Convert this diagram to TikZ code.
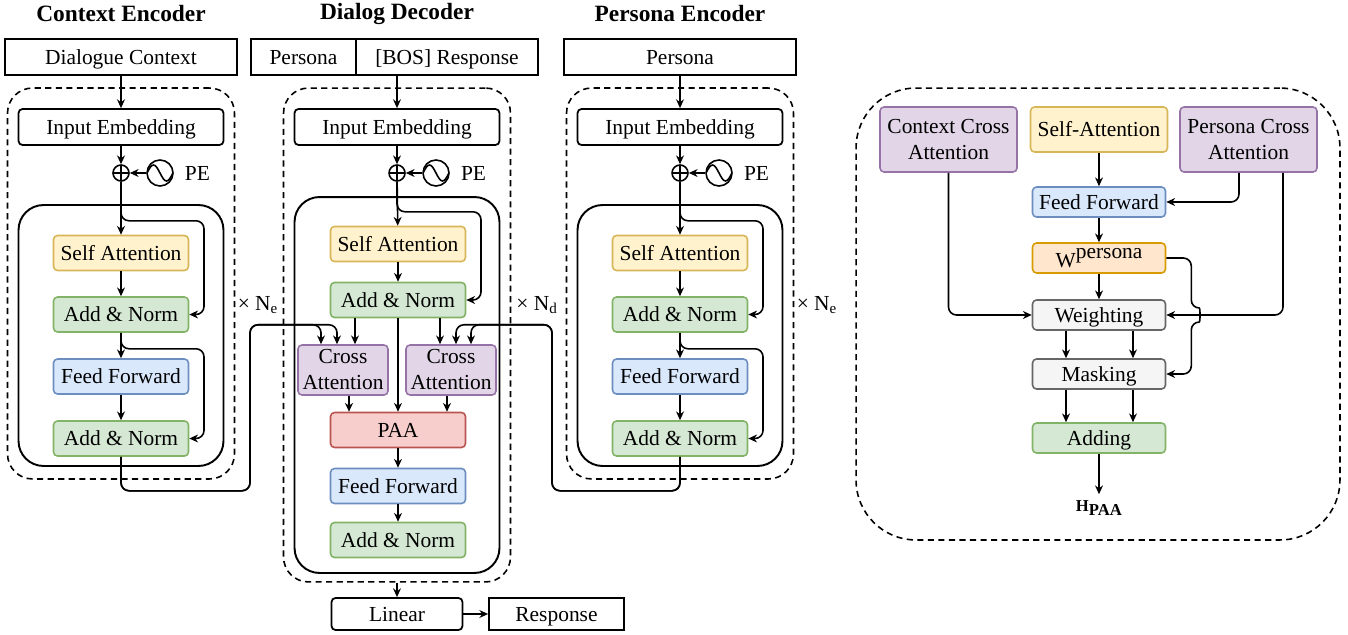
\documentclass[tikz,border=0pt]{standalone}
\usepackage{fontspec}
\setmainfont{Liberation Serif}
\usetikzlibrary{arrows.meta,positioning}
\definecolor{yelFill}{HTML}{FFF2CC}
\definecolor{yelLine}{HTML}{D6B656}
\definecolor{grnFill}{HTML}{D5E8D4}
\definecolor{grnLine}{HTML}{82B366}
\definecolor{bluFill}{HTML}{DAE8FC}
\definecolor{bluLine}{HTML}{6C8EBF}
\definecolor{purFill}{HTML}{E1D5E7}
\definecolor{purLine}{HTML}{9673A6}
\definecolor{redFill}{HTML}{F8CECC}
\definecolor{redLine}{HTML}{B85450}
\definecolor{orgFill}{HTML}{FFE6CC}
\definecolor{orgLine}{HTML}{D79B00}
\definecolor{gryFill}{HTML}{F5F5F5}
\definecolor{gryLine}{HTML}{666666}

\begin{document}
\begin{tikzpicture}[
	x=0.02cm, y=-0.02cm,
	every node/.style={font=\fontsize{12.2}{14.8}\selectfont},
	headline/.style={font=\bfseries\fontsize{13.3}{16}\selectfont},
	block/.style={draw, rounded corners=0.08cm, line width=0.9pt, minimum width=2.7cm, minimum height=0.7cm, inner sep=1pt, align=center, text height=8.4pt, text depth=0pt},
	inbox/.style={draw, line width=1pt, minimum height=0.72cm, inner sep=1pt, text height=8.4pt, text depth=0pt},
	embbox/.style={block, line width=1pt, minimum width=4.1cm, minimum height=0.72cm},
	sabox/.style={block, fill=yelFill, draw=yelLine},
	anbox/.style={block, fill=grnFill, draw=grnLine},
	ffbox/.style={block, fill=bluFill, draw=bluLine},
	cabox/.style={block, fill=purFill, draw=purLine, minimum width=1.8cm, minimum height=1cm, inner sep=0pt, text height=, text depth=},
	paabox/.style={block, fill=redFill, draw=redLine},
	wbox/.style={block, fill=orgFill, draw=orgLine, minimum width=2.66cm, minimum height=0.6cm, text height=, text depth=},
	gbox/.style={block, fill=gryFill, draw=gryLine, minimum width=2.66cm, minimum height=0.6cm},
	dashbox/.style={draw, dash pattern=on 3.5pt off 2.5pt, line width=0.9pt, rounded corners=0.5cm, minimum width=4.54cm},
	layerbox/.style={draw, line width=1.1pt, rounded corners=0.5cm, minimum width=4.1cm},
	addnode/.style={draw, circle, line width=0.9pt, minimum size=0.32cm, inner sep=0pt,
		path picture={\draw (path picture bounding box.north) -- (path picture bounding box.south)
			(path picture bounding box.west) -- (path picture bounding box.east);}},
	wave/.style={draw, circle, line width=0.9pt, minimum size=0.52cm, inner sep=0pt,
		path picture={\draw[line width=0.9pt] (path picture bounding box.west) sin ++(6.5,-8) cos ++(6.5,8) sin ++(6.5,8) cos ++(6.5,-8);}},
	conn/.style={-{Stealth[length=5pt,width=4.5pt]}, line width=0.9pt},
	wire/.style={line width=0.9pt}]
	\useasboundingbox (0,0) rectangle (1348,635);

	% context encoder
	\node[headline] at (121,14) {Context Encoder};
	\node[inbox, minimum width=4.64cm] (cin) at (121,57) {Dialogue Context};
	\node[dashbox, minimum height=7.82cm] (cdash) at (121,283.5) {};
	\node[layerbox, minimum height=5.22cm] (clayer) at (121,335.5) {};
	\node[embbox] (cemb) at (121,127) {Input Embedding};
	\node[addnode] (cplus) at (121,173) {};
	\node[wave] (cwave) at (160,173) {};
	\node[right=0.1cm of cwave] (cpe) {PE};
	\node[sabox] (csa) at (121,253) {Self Attention};
	\node[anbox] (can1) at (121,314.5) {Add \& Norm};
	\node[ffbox] (cff) at (121,376.5) {Feed Forward};
	\node[anbox] (can2) at (121,438.5) {Add \& Norm};
	\node (cnum) at (258,305) {× N\textsubscript{e}};

	\draw[conn] (cin) -- (cemb);
	\draw[conn] (cemb) -- (cplus);
	\draw[conn] (cwave) -- (cplus);
	\draw[conn] (cplus) -- (csa);
	\draw[conn, rounded corners=0.16cm] (cplus.south) |- ++(83,39) |- (can1.east);
	\draw[conn] (csa) -- (can1);
	\draw[conn] (can1) -- (cff);
	\draw[conn, rounded corners=0.16cm] (can1.south) |- ++(83,16) |- (can2.east);
	\draw[conn] (cff) -- (can2);

	% dialog decoder
	\node[headline] at (397,14) {Dialog Decoder};
	\node[inbox, minimum width=2.1cm] (dper) at (303.5,57) {Persona};
	\node[inbox, minimum width=3.64cm] (dbos) at (447,57) {[BOS] Response};
	\node[dashbox, minimum height=9.88cm] (ddash) at (397,335) {};
	\node[layerbox, minimum height=7.52cm] (dlayer) at (397,385) {};
	\node[embbox] (demb) at (397,127) {Input Embedding};
	\node[addnode] (dplus) at (397,173) {};
	\node[wave] (dwave) at (436,173) {};
	\node[right=0.1cm of dwave] (dpe) {PE};
	\node[sabox] (dsa) at (398,244) {Self Attention};
	\node[anbox] (dan1) at (398,300) {Add \& Norm};
	\node[cabox] (dcc) at (343,370) {Cross\\Attention};
	\node[cabox] (dpc) at (451,370) {Cross\\Attention};
	\node[paabox] (dpaa) at (398,430) {PAA};
	\node[ffbox] (dff) at (398,486) {Feed Forward};
	\node[anbox] (dan2) at (398,540) {Add \& Norm};
	\node[block, line width=1pt, minimum width=2.62cm, minimum height=0.64cm] (dlin) at (397,614) {Linear};
	\node[inbox, minimum width=2.7cm, minimum height=0.64cm] (dout) at (556.5,614) {Response};
	\node (dnum) at (537,305) {× N\textsubscript{d}};

	\draw[conn] (demb.north |- dbos.south) -- (demb);
	\draw[conn] (demb) -- (dplus);
	\draw[conn] (dwave) -- (dplus);
	\draw[conn] (dplus) -- (dsa);
	\draw[conn, rounded corners=0.16cm] (dplus.south) |- ++(84,30) |- (dan1.east);
	\draw[conn] (dsa) -- (dan1);
	\draw[conn] ([xshift=0.24cm]dcc.north |- dan1.south) -- ([xshift=0.24cm]dcc.north);
	\draw[conn] ([xshift=-0.22cm]dpc.north |- dan1.south) -- ([xshift=-0.22cm]dpc.north);
	\draw[conn] (dan1) -- (dpaa);
	\draw[conn] ([xshift=0.12cm]dcc.south) -- ([xshift=0.12cm]dcc.south |- dpaa.north);
	\draw[conn] ([xshift=-0.08cm]dpc.south) -- ([xshift=-0.08cm]dpc.south |- dpaa.north);
	\draw[conn] (dpaa) -- (dff);
	\draw[conn] (dff) -- (dan2);
	\draw[conn] (ddash.south -| dlin.north) -- (dlin);
	\draw[conn] (dlin) -- (dout);

	% persona encoder
	\node[headline] at (680,14) {Persona Encoder};
	\node[inbox, minimum width=4.64cm] (pin) at (680,57) {Persona};
	\node[dashbox, minimum height=7.82cm] (pdash) at (680,283.5) {};
	\node[layerbox, minimum height=5.22cm] (player) at (680,335.5) {};
	\node[embbox] (pemb) at (680,127) {Input Embedding};
	\node[addnode] (pplus) at (680,173) {};
	\node[wave] (pwave) at (719,173) {};
	\node[right=0.1cm of pwave] (ppe) {PE};
	\node[sabox] (psa) at (680,253) {Self Attention};
	\node[anbox] (pan1) at (680,314.5) {Add \& Norm};
	\node[ffbox] (pff) at (680,376.5) {Feed Forward};
	\node[anbox] (pan2) at (680,438.5) {Add \& Norm};
	\node (pnum) at (817,305) {× N\textsubscript{e}};

	\draw[conn] (pin) -- (pemb);
	\draw[conn] (pemb) -- (pplus);
	\draw[conn] (pwave) -- (pplus);
	\draw[conn] (pplus) -- (psa);
	\draw[conn, rounded corners=0.16cm] (pplus.south) |- ++(83,39) |- (pan1.east);
	\draw[conn] (psa) -- (pan1);
	\draw[conn] (pan1) -- (pff);
	\draw[conn, rounded corners=0.16cm] (pan1.south) |- ++(83,16) |- (pan2.east);
	\draw[conn] (pff) -- (pan2);

	% encoder outputs into the cross attentions
	\draw[conn, rounded corners=0.16cm] (can2.south) -- ++(0,34) -- ++(129,0) -- ++(0,-166) -| ([xshift=-0.12cm]dcc.north);
	\draw[conn, rounded corners=0.16cm] (can2.south) -- ++(0,34) -- ++(129,0) -- ++(0,-166) -| ([xshift=-0.44cm]dcc.north);
	\draw[conn, rounded corners=0.16cm] (pan2.south) -- ++(0,34) -- ++(-128,0) -- ++(0,-166) -| ([xshift=0.1cm]dpc.north);
	\draw[conn, rounded corners=0.16cm] (pan2.south) -- ++(0,34) -- ++(-128,0) -- ++(0,-166) -| ([xshift=0.4cm]dpc.north);

	% PAA
	\node[dashbox, minimum width=9.68cm, minimum height=9.04cm, rounded corners=1.2cm] (aframe) at (1098,314) {};
	\node[cabox, minimum width=2.74cm, minimum height=1.3cm] (actx) at (948.5,139.5) {Context Cross\\Attention};
	\node[sabox, minimum width=2.74cm, minimum height=0.9cm] (aself) at (1099,129.5) {Self-Attention};
	\node[cabox, minimum width=2.74cm, minimum height=1.3cm] (aper) at (1248.5,139.5) {Persona Cross\\Attention};
	\node[ffbox, minimum width=2.66cm, minimum height=0.6cm] (aff) at (1099,202) {Feed Forward};
	\node[wbox] (aw) at (1099,258) {W\raisebox{0.4em}{persona}};
	\node[gbox] (awt) at (1099,315) {Weighting};
	\node[gbox] (amask) at (1099,374) {Masking};
	\node[anbox, minimum width=2.66cm, minimum height=0.6cm] (aadd) at (1099,438) {Adding};
	\node[font=\bfseries\fontsize{9.5}{11}\selectfont] (aout) at (1099,508) {H\raisebox{-0.25em}{PAA}};

	\draw[conn] (aself) -- (aff);
	\draw[conn, rounded corners=0.16cm] ([xshift=-0.19cm]aper.south) |- (aff.east);
	\draw[conn] (aff) -- (aw);
	\draw[conn] (aw) -- (awt);
	\draw[conn, rounded corners=0.16cm] (actx.south) |- (awt.west);
	\draw[conn, rounded corners=0.16cm] ([xshift=0.69cm]aper.south) |- (awt.east);
	\draw[conn, rounded corners=0.16cm] (aw.east) -- ++(25,0) -- ++(0,50) .. controls +(9,0) and +(9,0) .. ++(0,14) |- (amask.east);
	\draw[conn] ([xshift=-0.66cm]awt.south) -- ([xshift=-0.66cm]amask.north);
	\draw[conn] ([xshift=0.68cm]awt.south) -- ([xshift=0.68cm]amask.north);
	\draw[conn] ([xshift=-0.66cm]amask.south) -- ([xshift=-0.66cm]aadd.north);
	\draw[conn] ([xshift=0.68cm]amask.south) -- ([xshift=0.68cm]aadd.north);
	\draw[conn, line width=1.3pt] (aadd) -- (aout);
\end{tikzpicture}
\end{document}
